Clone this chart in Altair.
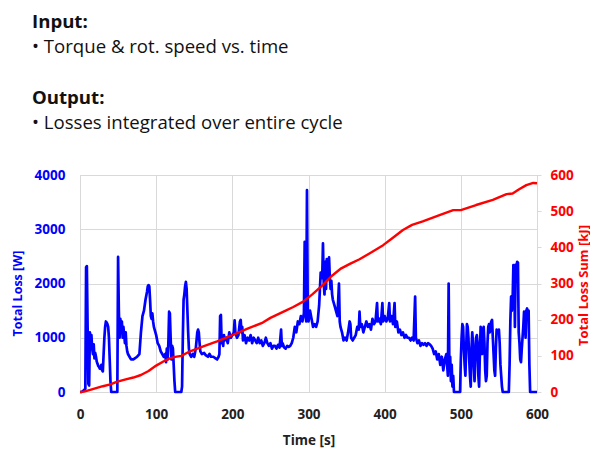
import altair as alt
import pandas as pd

# Total loss [W] vs time [s]
time_s = [0, 2, 5, 7, 8, 9, 10, 11, 12, 13, 14, 15, 16, 17, 18, 19, 20, 21, 22, 23, 24, 25, 26, 27, 28, 29, 30,
          31, 32, 33, 34, 35, 36, 37, 38, 39, 40, 41, 49, 50, 51, 52, 53, 54, 55, 56, 57, 58, 59, 60, 61, 62, 63,
          65, 67, 70, 72, 75, 78, 80, 82, 84, 86, 88, 89, 90, 91, 92, 93, 94, 95, 96, 97, 99, 100, 102, 104, 106,
          108, 110, 112, 113, 114, 115, 116, 117, 118, 119, 120, 121, 122, 123, 124, 125, 133, 134, 135, 136, 137,
          138, 139, 140, 141, 142, 143, 144, 146, 148, 150, 152, 154, 155, 156, 157, 158, 160, 163, 165, 168, 170,
          172, 175, 178, 180, 182, 183, 184, 185, 186, 187, 188, 189, 190, 192, 194, 196, 198, 200, 202, 203, 204,
          206, 208, 210, 211, 212, 213, 214, 216, 218, 220, 222, 224, 226, 228, 230, 232, 234, 236, 238, 240, 242,
          244, 246, 248, 250, 252, 254, 256, 258, 260, 262, 264, 265, 266, 268, 270, 272, 274, 276, 278, 280, 282,
          284, 286, 288, 290, 292, 294, 295, 296, 297, 298, 299, 300, 302, 304, 306, 308, 310, 312, 314, 316, 318,
          319, 320, 321, 322, 323, 324, 325, 326, 327, 328, 329, 330, 331, 332, 334, 336, 338, 340, 341, 342, 344,
          346, 348, 350, 352, 354, 355, 356, 358, 360, 362, 364, 366, 367, 368, 370, 372, 374, 376, 378, 380, 382,
          384, 386, 388, 390, 391, 393, 395, 397, 398, 400, 402, 404, 406, 407, 409, 411, 413, 414, 416, 418, 420,
          422, 424, 426, 428, 430, 432, 434, 436, 438, 440, 441, 443, 445, 447, 449, 451, 453, 455, 457, 459, 461,
          463, 465, 467, 469, 471, 473, 475, 477, 479, 481, 483, 484, 485, 486, 487, 488, 489, 490, 491, 499, 500,
          501, 502, 503, 504, 505, 506, 507, 508, 509, 510, 511, 512, 513, 514, 515, 516, 517, 518, 519, 520, 521,
          522, 523, 524, 525, 526, 527, 528, 529, 530, 531, 532, 533, 534, 535, 536, 537, 538, 539, 540, 541, 542,
          543, 544, 545, 546, 547, 548, 549, 550, 551, 552, 553, 554, 555, 563, 564, 565, 566, 567, 568, 569, 570,
          571, 572, 573, 574, 575, 576, 577, 578, 579, 580, 581, 582, 583, 584, 585, 586, 587, 588, 589, 590, 591,
          600]
loss_w = [0, 0, 30, 60, 2300, 2320, 1200, 150, 120, 1100, 900, 1050, 800, 700, 880, 620, 720, 650, 560, 520, 480,
          460, 430, 450, 500, 400, 380, 700, 1000, 1200, 1300, 1280, 1250, 1200, 1000, 600, 200, 0, 0, 2490, 1500,
          1000, 1350, 1100, 1300, 1000, 1200, 1050, 900, 1100, 850, 750, 700, 650, 600, 600, 620, 650, 700, 1100,
          1400, 1500, 1700, 1850, 1950, 1970, 1950, 1700, 1400, 1350, 1450, 1300, 1200, 1100, 1050, 900, 850, 750,
          700, 650, 700, 550, 800, 600, 900, 1480, 1450, 1000, 600, 850, 800, 500, 200, 0, 0, 100, 1000, 1700, 1800,
          1950, 2030, 1900, 1500, 1100, 800, 700, 650, 700, 650, 800, 1100, 1150, 1100, 900, 750, 700, 720, 680, 650,
          700, 650, 650, 620, 600, 650, 700, 1400, 1420, 900, 1000, 850, 1050, 950, 1000, 900, 1100, 1000, 1050, 1100,
          1320, 1100, 1000, 1050, 1300, 1330, 1100, 1200, 950, 1050, 900, 1000, 950, 1050, 900, 1000, 950, 900, 1000,
          900, 950, 850, 900, 1000, 900, 850, 900, 800, 850, 850, 800, 870, 820, 1150, 850, 900, 820, 800, 850, 830,
          850, 900, 1000, 1200, 1100, 1300, 1250, 1400, 1300, 1450, 2770, 1500, 1300, 3720, 1500, 1300, 1500, 1350,
          1200, 1250, 1200, 1300, 1600, 2200, 2100, 2740, 2000, 1800, 2400, 1900, 2450, 2100, 2300, 2480, 2100, 1900,
          2050, 1800, 1700, 1600, 1500, 1400, 2000, 1300, 1200, 1100, 950, 1000, 950, 1100, 1300, 1250, 1000, 950,
          1000, 1050, 1200, 1150, 1480, 1200, 1250, 1100, 1200, 1300, 1200, 1250, 1150, 1350, 1250, 1300, 1640, 1300,
          1350, 1250, 1640, 1300, 1400, 1300, 1350, 1640, 1300, 1400, 1250, 1640, 1200, 1300, 1100, 1150, 1050, 1100,
          1000, 1050, 1000, 1000, 950, 1000, 950, 1760, 1000, 900, 950, 850, 900, 870, 900, 850, 900, 880, 850, 800,
          700, 750, 600, 700, 500, 650, 400, 600, 700, 300, 2000, 400, 650, 200, 500, 100, 300, 0, 0, 600, 1000, 1250,
          1200, 800, 500, 300, 800, 1250, 1200, 1000, 600, 300, 100, 800, 1100, 900, 500, 200, 600, 1000, 1050, 900,
          300, 100, 700, 1200, 1150, 700, 1000, 1200, 900, 400, 200, 300, 900, 1200, 1250, 1100, 1250, 1300, 1330,
          1000, 700, 400, 300, 800, 1150, 1100, 1100, 1150, 900, 500, 300, 100, 0, 0, 500, 1300, 1760, 1500, 1700,
          2340, 2300, 1200, 2350, 2300, 2400, 2380, 1100, 900, 600, 550, 800, 1000, 1200, 1480, 1400, 1000, 1500,
          1540, 1400, 1500, 500, 0, 0]

# Cumulative loss [kJ] vs time [s]
sum_time_s = [0, 5, 10, 20, 30, 40, 48, 60, 70, 80, 90, 100, 110, 118, 125, 133, 142, 160, 180, 201, 220, 240,
              250, 270, 280, 293, 305, 319, 330, 343, 355, 367, 380, 398, 410, 424, 436, 450, 472, 490, 500, 520,
              542, 560, 568, 576, 586, 595, 600]
sum_kj = [0, 1, 4, 10, 16, 21, 28, 35, 40, 47, 58, 73, 85, 93, 97, 100, 110, 125, 140, 158, 175, 192, 205, 225,
          235, 250, 270, 296, 320, 342, 355, 367, 383, 406, 425, 448, 462, 472, 489, 503, 503, 517, 531, 547, 549,
          560, 572, 578, 577]

header_lines = ["Input:", "\u2022 Torque & rot. speed vs. time", "Output:", "\u2022 Losses integrated over entire cycle"]
header_bold = [True, False, True, False]

x_ticks = [0, 100, 200, 300, 400, 500, 600]
loss_ticks = [0, 1000, 2000, 3000, 4000]
sum_ticks = [0, 100, 200, 300, 400, 500, 600]

BLUE = "#0000FF"
RED = "#FF0000"
FONT = "Open Sans"
GRID = "#D9D9D9"

loss_df = pd.DataFrame({"time": time_s, "loss": loss_w})
sum_df = pd.DataFrame({"time": sum_time_s, "ksum": sum_kj})

x_enc = alt.X(
    "time:Q",
    scale=alt.Scale(domain=[0, 600], nice=False),
    axis=alt.Axis(
        values=x_ticks, format="d", title="Time [s]", grid=True, gridColor=GRID, domain=False, ticks=False,
        labelFlush=False,
        labelFont=FONT, labelFontSize=13.5, labelFontWeight="bold", labelColor="#222222", labelPadding=15,
        titleFont=FONT, titleFontSize=13.5, titleFontWeight="bold", titleColor="#222222",
        titleY=48, titleBaseline="middle",
    ),
)

blue = alt.Chart(loss_df).mark_line(color=BLUE, strokeWidth=2.7, strokeJoin="round").encode(
    x=x_enc,
    y=alt.Y(
        "loss:Q",
        scale=alt.Scale(domain=[0, 4000], nice=False),
        axis=alt.Axis(
            values=loss_ticks, format="d", orient="left", title="Total Loss [W]", grid=True, gridColor=GRID,
            domain=False, ticks=False, labelFlush=False,
            labelFont=FONT, labelFontSize=13.5, labelFontWeight="bold",
            labelColor=BLUE, labelPadding=15,
            titleFont=FONT, titleFontSize=12.5, titleFontWeight="bold", titleColor=BLUE,
            titleX=-63, titleY=118, titleBaseline="middle", titleAngle=270,
        ),
    ),
)

red = alt.Chart(sum_df).mark_line(color=RED, strokeWidth=2.4, strokeJoin="round").encode(
    x=alt.X("time:Q", scale=alt.Scale(domain=[0, 600], nice=False)),
    y=alt.Y(
        "ksum:Q",
        scale=alt.Scale(domain=[0, 600], nice=False),
        axis=alt.Axis(
            values=sum_ticks, format="d", orient="right", title="Total Loss Sum [kJ]", grid=False,
            domain=True, domainColor=GRID, ticks=True, tickColor=GRID, tickSize=4, labelFlush=False,
            labelFont=FONT, labelFontSize=13.5, labelFontWeight="bold", labelColor=RED, labelPadding=9,
            titleFont=FONT, titleFontSize=13, titleFontWeight="bold", titleColor=RED,
            titleX=46, titleY=110, titleBaseline="middle", titleAngle=270,
        ),
    ),
)

header_y = [-147, -122, -71, -46]
texts = []
for line, bold, yy in zip(header_lines, header_bold, header_y):
    texts.append(
        alt.Chart(pd.DataFrame({"txt": [line]})).mark_text(
            align="left", baseline="alphabetic", font=FONT, fontSize=18.6,
            fontWeight="bold" if bold else "normal", color="#111111",
        ).encode(text="txt:N", x=alt.value(-48), y=alt.value(yy))
    )

chart = alt.layer(blue, red, *texts).resolve_scale(y="independent").properties(
    width=457,
    height=217,
    autosize=alt.AutoSizeParams(type="none"),
    padding={"left": 72, "top": 167, "right": 53, "bottom": 56},
).configure_view(stroke=GRID)

chart.save("out.html", embed_options={"renderer": "svg", "actions": False})
